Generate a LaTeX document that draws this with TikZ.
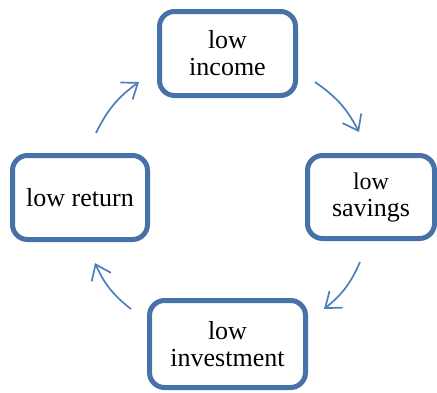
\documentclass[tikz,border=0pt]{standalone}
\usepackage{fontspec}
\setmainfont{Liberation Serif}
\usetikzlibrary{arrows.meta}
\definecolor{boxblue}{RGB}{71,114,168}
\definecolor{arrowblue}{RGB}{79,126,186}
\tikzset{
  cyclebox/.style={draw=boxblue, line width=5pt, rounded corners=15pt,
    fill=white, align=center, inner sep=0pt,
    font=\fontsize{26}{27}\selectfont},
  cyclearrow/.style={draw=arrowblue, line width=1.7pt,
    -{Straight Barb[length=14pt,width=21pt,line width=1.7pt]}, bend left=14}
}
\begin{document}
\begin{tikzpicture}[x=1pt,y=-1pt]
  \useasboundingbox (0,0) rectangle (437,392);
  % the four stages of the cycle
  \node[cyclebox, minimum width=136pt, minimum height=84pt] (income) at (227.5,53.5) {low\\income};
  \node[cyclebox, minimum width=127pt, minimum height=83pt] (savings) at (371,197) {\fontsize{24}{25}\selectfont low\\savings};
  \node[cyclebox, minimum width=156pt, minimum height=87pt] (investment) at (227.5,344) {low\\investment};
  \node[cyclebox, minimum width=135pt, minimum height=84pt] (return) at (80,197.5) {low return};
  % arrow end points on a circle around the middle
  \coordinate (a1) at (96,133);  \coordinate (b1) at (139,82);
  \coordinate (a2) at (315,82);  \coordinate (b2) at (359,132);
  \coordinate (a3) at (360,262); \coordinate (b3) at (324,309);
  \coordinate (a4) at (131,309); \coordinate (b4) at (95,263);
  \draw[cyclearrow] (a1) to (b1);
  \draw[cyclearrow] (a2) to (b2);
  \draw[cyclearrow] (a3) to (b3);
  \draw[cyclearrow] (a4) to (b4);
\end{tikzpicture}
\end{document}
